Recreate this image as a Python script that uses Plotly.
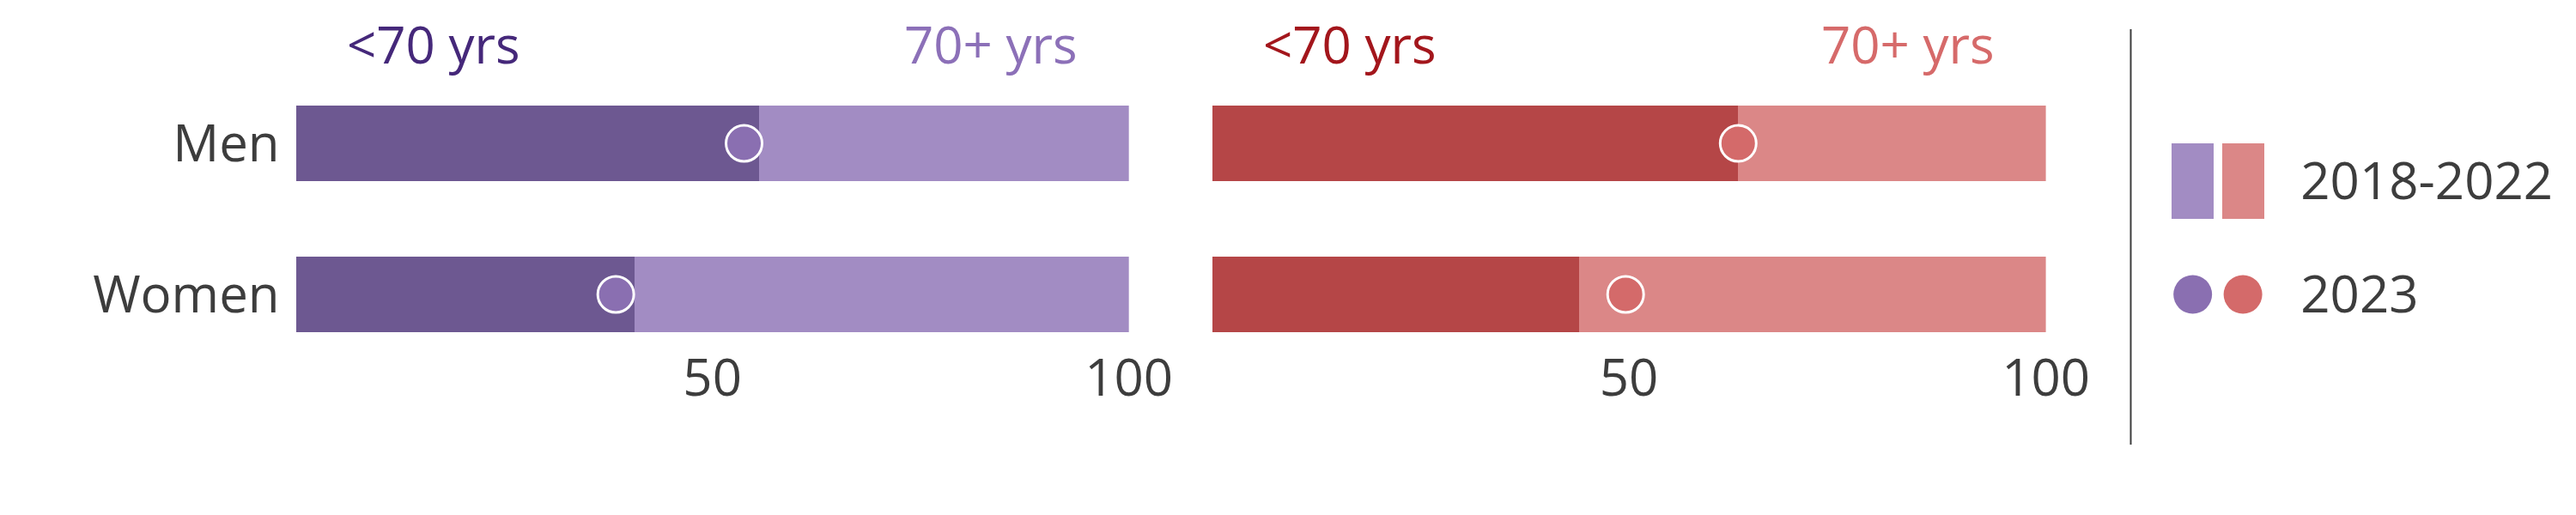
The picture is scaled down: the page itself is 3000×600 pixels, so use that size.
#Stacked share bars (<70 vs 70+ yrs) for men and women, two panels,
#with 2023 values shown as circles and a hand-made legend on the right

import plotly.graph_objs as go

# data
groups = ["Men", "Women"]
panel_a_under70 = [55.6, 40.7]   # 2018-2022, purple panel
panel_a_over70 = [44.4, 59.3]
panel_a_2023 = [53.8, 38.4]
panel_b_under70 = [63.1, 44.0]   # 2018-2022, red panel
panel_b_over70 = [36.9, 56.0]
panel_b_2023 = [63.1, 49.6]
legend_labels = ["2023", "2018-2022"]
legend_keys = ["a", "b"]

# colours
text_col = "#3d3d3d"
font_name = "Open Sans"
fsize = 60
purple_dark, purple_light, purple_dot = "#6D5891", "#A28CC3", "#8A6FB1"
red_dark, red_light, red_dot = "#B54647", "#DB8787", "#D46A6A"

W, H = 3000, 600


# screen pixel -> paper fraction (page has a small offset when shown)
def px(x):
    return (x - 8) / 2952


def py(y):
    return 1 - (y - 8) / H


fig = go.Figure()

#panel traces
panels = [
    ("x", "y", panel_a_under70, panel_a_over70, panel_a_2023, purple_dark, purple_light, purple_dot),
    ("x2", "y2", panel_b_under70, panel_b_over70, panel_b_2023, red_dark, red_light, red_dot),
]
for xa, ya, under, over, dots, dark, light, dot in panels:
    fig.add_trace(go.Bar(y=groups, x=under, orientation="h", width=0.5, marker=dict(color=dark, line=dict(width=0)),
                         xaxis=xa, yaxis=ya, showlegend=False, hoverinfo="skip"))
    fig.add_trace(go.Bar(y=groups, x=over, orientation="h", width=0.5, marker=dict(color=light, line=dict(width=0)),
                         xaxis=xa, yaxis=ya, showlegend=False, hoverinfo="skip"))
    fig.add_trace(go.Scatter(y=groups, x=dots, mode="markers", xaxis=xa, yaxis=ya, showlegend=False,
                             marker=dict(color=dot, size=42, line=dict(color="white", width=3))))

#legend built as its own little subplot
fig.add_trace(go.Bar(x=legend_keys, y=[0.667, 0.667], base=[0.667, 0.667], width=0.84,
                     marker=dict(color=[purple_light, red_light], line=dict(width=0)),
                     xaxis="x3", yaxis="y3", showlegend=False, hoverinfo="skip"))
fig.add_trace(go.Scatter(x=legend_keys, y=[0, 0], mode="markers", xaxis="x3", yaxis="y3", showlegend=False,
                         marker=dict(color=[purple_dot, red_dot], size=45)))

ydom = [py(400), py(100)]
yrange = [-0.324, 1.381]
tickfont = dict(family=font_name, size=fsize, color=text_col)

fig.update_layout(
    width=W, height=H, barmode="stack",
    margin=dict(l=0, r=0, t=0, b=0),
    paper_bgcolor="white", plot_bgcolor="white",
    font=dict(family=font_name, size=fsize, color=text_col),
    xaxis=dict(domain=[px(345), px(1316)], range=[0, 100], tickvals=[50, 100], anchor="y",
               showgrid=False, zeroline=False, showline=False, ticks="", tickfont=tickfont),
    yaxis=dict(domain=ydom, categoryorder="array", categoryarray=["Women", "Men"], range=yrange,
               showgrid=False, zeroline=False, ticks="", ticklabelstandoff=18, tickfont=tickfont, anchor="x"),
    xaxis2=dict(domain=[px(1413), px(2385)], range=[0, 100], tickvals=[50, 100], anchor="y2",
                showgrid=False, zeroline=False, showline=False, ticks="", tickfont=tickfont),
    yaxis2=dict(domain=ydom, categoryorder="array", categoryarray=["Women", "Men"], range=yrange,
                showgrid=False, zeroline=False, showticklabels=False, anchor="x2"),
    xaxis3=dict(domain=[px(2527), px(2644)], type="category", range=[-0.5, 1.5], anchor="y3",
                showgrid=False, zeroline=False, showticklabels=False),
    yaxis3=dict(domain=[py(409), py(145)], range=[-0.5, 1.5], tickvals=[0, 1], ticktext=legend_labels,
                side="right", anchor="x3", showgrid=False, zeroline=False, ticks="",
                ticklabelstandoff=37, tickfont=tickfont),
)

#panel headings
heads = [
    ("x", 5.9, "left", "&lt;70 yrs", "#45287A"),
    ("x", 94.1, "right", "70+ yrs", "#8C70B8"),
    ("x2", 5.9, "left", "&lt;70 yrs", "#A3161C"),
    ("x2", 94.1, "right", "70+ yrs", "#D66A6A"),
]
for xr, xv, anc, txt, col in heads:
    fig.add_annotation(xref=xr, yref="paper", x=xv, y=1, xanchor=anc, yanchor="top",
                       text=txt, showarrow=False, font=dict(family=font_name, size=fsize, color=col))

#separator line before legend
fig.add_shape(type="line", xref="paper", yref="paper", x0=px(2484), x1=px(2484),
              y0=py(518), y1=py(34), line=dict(color=text_col, width=2))

fig.write_html("out.html")
